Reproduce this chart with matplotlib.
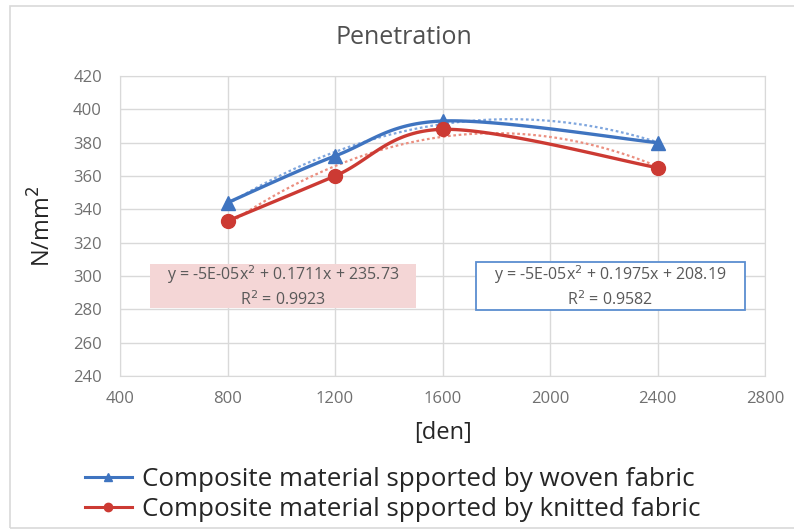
import numpy as np
import matplotlib.pyplot as plt
from matplotlib.patches import Rectangle
from matplotlib.lines import Line2D

plt.rcParams['font.family'] = ['Open Sans', 'DejaVu Sans']

# linear density of the yarn [den] and penetration resistance [N/mm2]
den = [800, 1200, 1600, 2400]
woven = [344, 372, 393, 380]
knitted = [333, 360, 388, 365]

series_names = ['Composite material spported by woven fabric',
                'Composite material spported by knitted fabric']

# trendline labels as printed on the chart
eq_pink = 'y = -5E-05x$^2$ + 0.1711x + 235.73\nR$^2$ = 0.9923'
eq_blue = 'y = -5E-05x$^2$ + 0.1975x + 208.19\nR$^2$ = 0.9582'

x_ticks = [400, 800, 1200, 1600, 2000, 2400, 2800]
y_ticks = [240, 260, 280, 300, 320, 340, 360, 380, 400, 420]

BLUE = '#3f74c0'
RED = '#cc3a33'


def smooth(xs, ys, n=40):
    # catmull-rom curve through the points, like a "smoothed line" chart
    p = np.column_stack([xs, ys]).astype(float)
    p = np.vstack([p[0], p, p[-1]])
    out = []
    t = np.linspace(0, 1, n)[:, None]
    for i in range(1, len(p) - 2):
        p0, p1, p2, p3 = p[i - 1], p[i], p[i + 1], p[i + 2]
        seg = 0.5 * ((2 * p1) + (-p0 + p2) * t
                     + (2 * p0 - 5 * p1 + 4 * p2 - p3) * t ** 2
                     + (-p0 + 3 * p1 - 3 * p2 + p3) * t ** 3)
        out.append(seg)
    out = np.vstack(out)
    return out[:, 0], out[:, 1]


fig = plt.figure(figsize=(7.94, 5.32), dpi=100)
ax = fig.add_axes([120 / 794, 1 - 376 / 532, 645 / 794, 300 / 532])

# chart frame
fig.patches.append(Rectangle((10 / 794, 4 / 532), 1.2, 522 / 532, transform=fig.transFigure,
                             fill=False, edgecolor='#d9d9d9', linewidth=1.2))

ax.set_xlim(400, 2800)
ax.set_ylim(240, 420)
ax.set_xticks(x_ticks)
ax.set_yticks(y_ticks)
ax.grid(True, color='#d9d9d9', linewidth=1)
ax.set_axisbelow(True)
for s in ax.spines.values():
    s.set_color('#d9d9d9')
ax.tick_params(length=0, labelsize=12, colors='#707070')
ax.tick_params(axis='x', pad=11)
ax.tick_params(axis='y', pad=13)

# polynomial trendlines (order 2)
xf = np.linspace(den[0], den[-1], 200)
for ys, c in [(woven, '#7fa6de'), (knitted, '#eb8f80')]:
    coef = np.polyfit(den, ys, 2)
    ax.plot(xf, np.polyval(coef, xf), linestyle=(0, (1.2, 1.2)), color=c, linewidth=1.6, zorder=2)

sx, sy = smooth(den, woven)
ax.plot(sx, sy, color=BLUE, linewidth=2.4, zorder=3)
ax.plot(den, woven, linestyle='none', marker='^', markersize=10, color=BLUE, zorder=4)
sx, sy = smooth(den, knitted)
ax.plot(sx, sy, color=RED, linewidth=2.4, zorder=3)
ax.plot(den, knitted, linestyle='none', marker='o', markersize=10, color=RED, zorder=4)

# trendline equation boxes
ax.add_patch(Rectangle((511, 280.8), 990, 26.4, facecolor='#f4d6d6', edgecolor='none', zorder=5))
ax.text(1006, 294, eq_pink, ha='center', va='center', fontsize=11.5, color='#595959',
        linespacing=1.25, zorder=6)
ax.add_patch(Rectangle((1725, 279.6), 1001, 28.8, facecolor='white', edgecolor='#5b8ed0',
                       linewidth=1.3, zorder=5))
ax.text(2225, 294, eq_blue, ha='center', va='center', fontsize=11.5, color='#595959',
        linespacing=1.25, zorder=6)

fig.text(404 / 794, 1 - 38 / 532, 'Penetration', ha='center', va='center', fontsize=18, color='#505050')
ax.set_xlabel('[den]', fontsize=17, color='#262626', labelpad=10)
ax.set_ylabel('N/mm$^2$', fontsize=17, color='#262626', labelpad=12)

handles = [Line2D([], [], color=BLUE, linewidth=2.2, marker='^', markersize=6),
           Line2D([], [], color=RED, linewidth=2.2, marker='o', markersize=6)]
fig.legend(handles, series_names, loc='upper left', bbox_to_anchor=(85 / 794, 1 - 467 / 532),
           frameon=False, fontsize=18.7, handlelength=1.8, handletextpad=0.4,
           labelspacing=0.18, borderpad=0, borderaxespad=0, labelcolor='#262626')

fig.savefig('out.png', dpi=100)
